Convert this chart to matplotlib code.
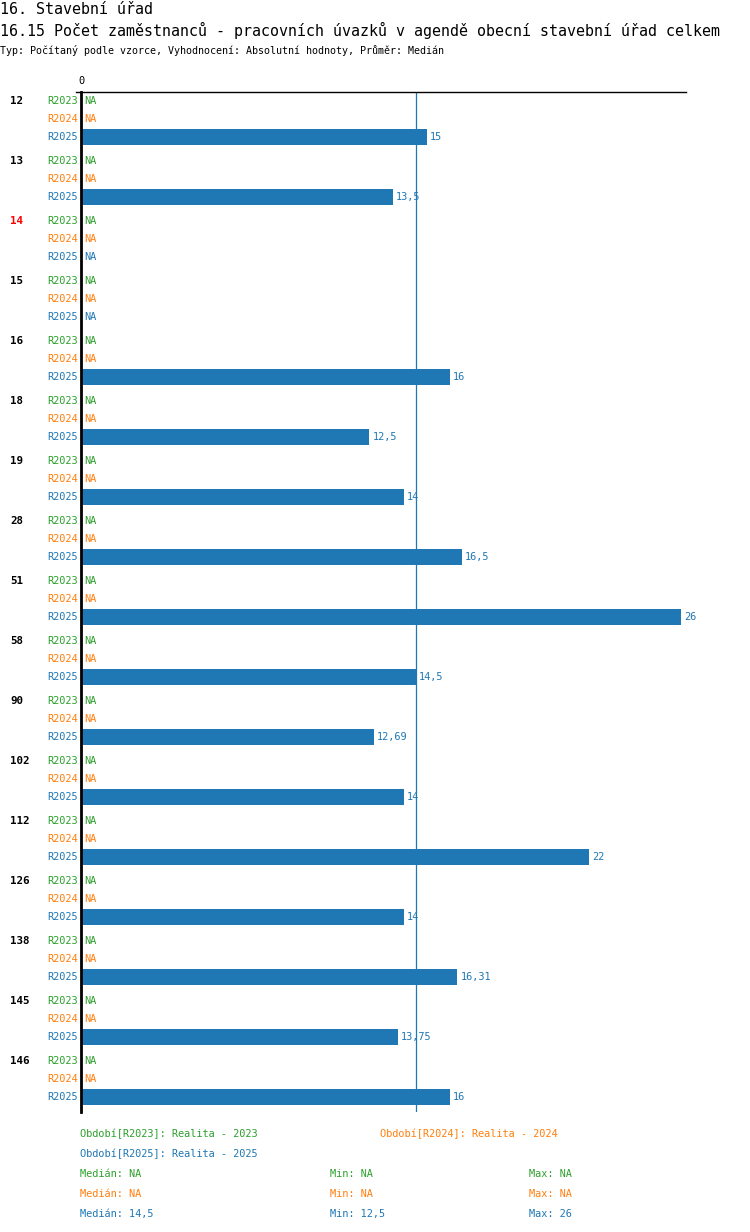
import matplotlib
matplotlib.use("Agg")
import matplotlib.pyplot as plt
import numpy as np

W, H = 750, 1232
DPI = 100

title1 = "16. Stavební úřad"
title2 = "16.15 Počet zaměstnanců - pracovních úvazků v agendě obecní stavební úřad celkem"
subtitle = "Typ: Počítaný podle vzorce, Vyhodnocení: Absolutní hodnoty, Průměr: Medián"

groups = ["12", "13", "14", "15", "16", "18", "19", "28", "51", "58", "90", "102", "112", "126", "138", "145", "146"]
highlight = "14"
series = ["R2023", "R2024", "R2025"]
colors = {"R2023": "#2ca02c", "R2024": "#ff7f0e", "R2025": "#1f77b4"}
nan = np.nan
values = {
    "R2023": [nan] * 17,
    "R2024": [nan] * 17,
    "R2025": [15, 13.5, nan, nan, 16, 12.5, 14, 16.5, 26, 14.5, 12.69, 14, 22, 14, 16.31, 13.75, 16],
}
median_2025 = 14.5
legend_names = ["Období[R2023]: Realita - 2023", "Období[R2024]: Realita - 2024", "Období[R2025]: Realita - 2025"]
stats = {
    "R2023": ("NA", "NA", "NA"),
    "R2024": ("NA", "NA", "NA"),
    "R2025": ("14,5", "12,5", "26"),
}

def fmt(v):
    s = f"{v:g}"
    return s.replace(".", ",")

FONT = "DejaVu Sans Mono"
plt.rcParams["font.family"] = [FONT]

fig = plt.figure(figsize=(W / DPI, H / DPI), dpi=DPI)

def fx(px):
    return px / W

def fy(py):
    return 1 - py / H

# titles
fig.text(fx(0), fy(9), title1, fontsize=10.8, va="center", ha="left")
fig.text(fx(0), fy(30), title2, fontsize=10.8, va="center", ha="left")
fig.text(fx(0), fy(50), subtitle, fontsize=7.2, va="center", ha="left")

ax_left, ax_right, ax_top, ax_bot = 81, 686, 92, 1112
ax = fig.add_axes([fx(ax_left), fy(ax_bot), (ax_right - ax_left) / W, (ax_bot - ax_top) / H])
scale = 600 / 26.0  # px per unit
ax.set_xlim(0, (ax_right - ax_left) / scale)
# y in pixel-like units; first row centre at 0
ax.set_ylim(ax_bot - 101, ax_top - 101)

GROUP_STEP = 60
ROW_STEP = 18
BAR_H = 16

def px2x(dpx):
    return dpx / scale

for gi, g in enumerate(groups):
    base = gi * GROUP_STEP
    ax.text(px2x(10 - ax_left), base, g, fontsize=7.8, fontweight="bold",
            color=("red" if g == highlight else "black"), ha="left", va="center", clip_on=False)
    for si, s in enumerate(series):
        y = base + si * ROW_STEP
        c = colors[s]
        ax.text(px2x(-3), y, s, fontsize=7.4, color=c, ha="right", va="center", clip_on=False)
        v = values[s][gi]
        if np.isnan(v):
            ax.text(px2x(3), y, "NA", fontsize=7.4, color=c, ha="left", va="center", clip_on=False)
        else:
            ax.barh(y, v, height=BAR_H, color=c, left=0, zorder=2)
            ax.text(v + px2x(3), y, fmt(v), fontsize=7.4, color=c, ha="left", va="center", clip_on=False)

ax.axvline(median_2025, color=colors["R2025"], lw=0.9, zorder=1)

for sp in ["right", "bottom"]:
    ax.spines[sp].set_visible(False)
ax.spines["left"].set_linewidth(2)
ax.spines["left"].set_color("black")
ax.spines["top"].set_linewidth(1)
ax.spines["top"].set_color("black")
# extend top axis line slightly to the left
fig.add_artist(plt.Line2D([fx(76), fx(ax_left)], [fy(ax_top), fy(ax_top)], color="black", lw=1))

ax.set_yticks([])
ax.xaxis.tick_top()
ax.set_xticks([0])
ax.set_xticklabels(["0"], fontsize=7.4)
ax.tick_params(axis="x", length=0, pad=4)

# legend / stats
fig.text(fx(80), fy(1134), legend_names[0], fontsize=7.4, color=colors["R2023"], va="center")
fig.text(fx(380), fy(1134), legend_names[1], fontsize=7.4, color=colors["R2024"], va="center")
fig.text(fx(80), fy(1154), legend_names[2], fontsize=7.4, color=colors["R2025"], va="center")
for i, s in enumerate(series):
    yy = 1174 + 20 * i
    med, mn, mx = stats[s]
    fig.text(fx(80), fy(yy), f"Medián: {med}", fontsize=7.4, color=colors[s], va="center")
    fig.text(fx(330), fy(yy), f"Min: {mn}", fontsize=7.4, color=colors[s], va="center")
    fig.text(fx(529), fy(yy), f"Max: {mx}", fontsize=7.4, color=colors[s], va="center")

fig.savefig("out.png", dpi=DPI)
